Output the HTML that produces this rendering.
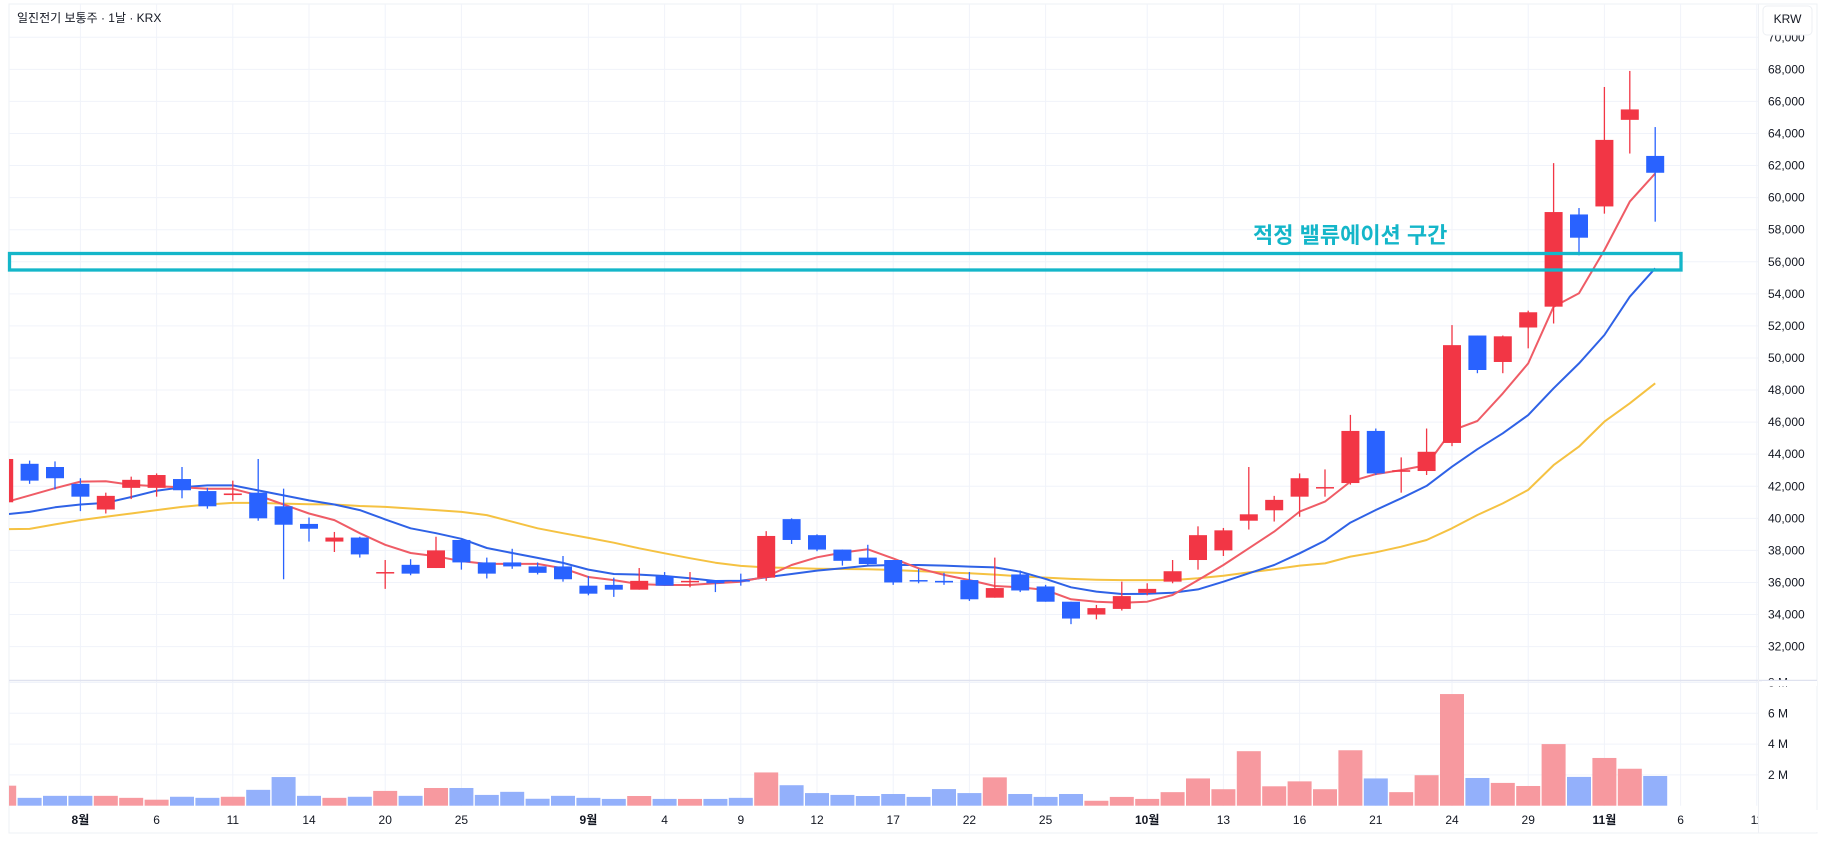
<!DOCTYPE html>
<html><head><meta charset="utf-8">
<style>
html,body{margin:0;padding:0;background:#fff;}
body{width:1827px;height:848px;overflow:hidden;font-family:"Liberation Sans","Noto Sans CJK KR",sans-serif;}
svg text{font-family:"Liberation Sans","Noto Sans CJK KR",sans-serif;}
</style></head>
<body>
<svg id="chart" width="1827" height="848" viewBox="0 0 1827 848" xmlns="http://www.w3.org/2000/svg">
  <rect x="0" y="0" width="1827" height="848" fill="#ffffff"/>
  <g id="grid"></g>
  <g id="vol"></g>
  <g id="ma"></g>
  <g id="candles"></g>
  <g id="axes"></g>
  <rect x="9.5" y="253.5" width="1671.5" height="16.5" fill="none" stroke="#14b6c9" stroke-width="3.3"/>
  <text x="1253" y="243" font-size="22" font-weight="bold" fill="#14b6c9">적정 밸류에이션 구간</text>
  <text x="17" y="22" font-size="12" fill="#131722">일진전기 보통주 · 1날 · KRX</text>
  <g>
    <rect x="1763" y="6" width="49" height="29" rx="4" fill="#fff" stroke="#eceff3"/>
    <text x="1787.5" y="23" font-size="12" text-anchor="middle" fill="#131722">KRW</text>
  </g>
</svg>
<script>
const openP=[41000,43400,43200,42150,40550,41900,41900,42450,41700,41450,41600,40750,39650,38550,38800,36600,37100,36900,38650,37250,37250,37000,37000,35800,35850,35550,36400,36050,36150,36150,36300,39950,38950,38050,37550,37400,36150,36100,36150,35050,36500,35750,34800,34000,34350,35350,36050,37400,38000,39850,40500,41350,41900,42200,45450,42900,42950,44700,51400,49750,51900,53200,58950,59450,64850,62600];
const highP=[43700,43600,43550,42500,41600,42600,42800,43200,41900,42350,43700,41850,40050,39150,38850,37400,37450,38850,38700,37550,38100,37250,37650,36400,36300,36900,36650,36650,36150,36550,39200,40000,39000,38050,38350,37400,36850,36600,36650,37550,36750,35850,34800,34600,36050,35950,37400,39500,39400,43200,41400,42800,43050,46450,45600,43800,45600,52050,51400,51400,52950,62150,59350,66900,67900,64400];
const lowP=[41000,42150,41800,40450,40300,41200,41350,41250,40600,41100,39850,36200,38550,37900,37550,35600,36450,36900,36800,36250,36850,36500,36050,35200,35100,35550,35800,35700,35400,35800,36100,38400,37950,37050,37100,35850,35950,35850,34850,35050,35400,34800,33400,33700,34250,35200,35950,36800,37650,39300,39800,40100,41350,42100,42700,41600,42700,44500,49050,49050,50600,52150,56400,59000,62750,58500];
const closeP=[43700,42350,42500,41350,41400,42400,42700,41750,40750,41550,40000,39600,39350,38800,37750,36650,36550,38000,37250,36550,37000,36600,36200,35300,35550,36100,35800,36100,35950,36050,38900,38650,38050,37350,37150,36000,36100,36000,34950,35650,35500,34800,33750,34400,35150,35600,36700,38950,39250,40250,41150,42500,41950,45450,42800,43000,44150,50800,49250,51350,52850,59100,57500,63600,65500,61550];
const volumeM=[1.3,0.51,0.64,0.64,0.64,0.51,0.39,0.58,0.51,0.58,1.03,1.86,0.64,0.51,0.58,0.96,0.64,1.15,1.15,0.7,0.9,0.45,0.64,0.51,0.44,0.63,0.44,0.44,0.44,0.51,2.16,1.33,0.82,0.7,0.63,0.76,0.57,1.08,0.82,1.84,0.76,0.57,0.76,0.32,0.57,0.44,0.88,1.77,1.07,3.54,1.26,1.58,1.07,3.6,1.77,0.88,1.98,7.25,1.8,1.48,1.28,4.0,1.87,3.1,2.4,1.93];
const ma5=[40980,41430,41880,42290,42310,42090,42000,41940,41840,41840,41430,40860,40300,39890,39070,38350,37840,37630,37330,37160,37160,37160,36880,36340,36150,35900,35840,35840,35950,36050,36360,37090,37570,37860,38070,37500,36880,36470,36150,35780,35700,35530,34950,34800,34740,34800,35220,36150,37090,38130,39170,40420,41040,42290,42760,43010,43320,45480,46070,47790,49660,53200,54030,56730,59750,61510];
const ma10=[40240,40400,40690,40860,40960,41330,41720,41940,42050,42050,41740,41430,41120,40860,40510,39930,39380,39070,38720,38150,37840,37530,37220,36800,36530,36490,36400,36260,36090,36110,36320,36530,36740,36880,37050,37090,37090,37050,36990,36940,36670,36220,35700,35430,35280,35290,35360,35570,36050,36570,37090,37820,38610,39730,40520,41250,42020,43220,44310,45300,46440,48110,49660,51430,53820,55590];
const ma20=[39320,39340,39620,39890,40100,40300,40510,40710,40860,40960,40960,40920,40880,40860,40770,40710,40610,40510,40400,40200,39790,39380,39070,38780,38480,38130,37820,37510,37230,37030,36940,36900,36860,36840,36820,36780,36710,36630,36570,36490,36380,36300,36220,36170,36150,36150,36150,36260,36420,36630,36820,37050,37190,37610,37880,38230,38650,39380,40210,40930,41770,43320,44470,46030,47170,48420];
const xTickIdx=[3,6,9,12,15,18,23,26,29,32,35,38,41,45,48,51,54,57,60,63,66,69];
const xTickLabels=["8월","6","11","14","20","25","9월","4","9","12","17","22","25","10월","13","16","21","24","29","11월","6","11"];
const priceTicks=[32000,34000,36000,38000,40000,42000,44000,46000,48000,50000,52000,54000,56000,58000,60000,62000,64000,66000,68000,70000];
const volTicks=[2,4,6,8];

const NS="http://www.w3.org/2000/svg";
const PL=9, PR=1758, PT=4, PB=680, VB=805.7;
function xOf(i){return 4.2+25.4*i;}
function yOf(p){return 646.6-(p-32000)*0.016035;}
function vOf(v){return VB-v*15.4;}
function mk(tag,attrs,parent){const e=document.createElementNS(NS,tag);for(const k in attrs)e.setAttribute(k,attrs[k]);parent.appendChild(e);return e;}

const svg=document.getElementById('chart');
const defs=mk('defs',{},svg);
const cp=mk('clipPath',{id:'cp'},defs); mk('rect',{x:PL,y:PT,width:PR-PL,height:PB-PT},cp);
const cv=mk('clipPath',{id:'cv'},defs); mk('rect',{x:PL,y:PB+1,width:PR-PL,height:VB-PB},cv);

const grid=document.getElementById('grid');
const axes=document.getElementById('axes');
mk('rect',{x:PL,y:PT,width:1817-PL,height:833-PT,fill:'none',stroke:'#eef0f4','stroke-width':1},grid);
priceTicks.forEach(p=>{
  const y=yOf(p);
  const g=mk('line',{x1:PL,x2:PR,y1:y,y2:y,stroke:'#f0f3fa','stroke-width':1},grid);
  
  
  const t=mk('text',{x:1768,y:y+4,'font-size':12,fill:'#131722'},axes);
  t.textContent=p.toLocaleString('en-US');
  
  
});
volTicks.forEach(v=>{
  const y=vOf(v);
  const g=mk('line',{x1:PL,x2:PR,y1:y,y2:y,stroke:'#f0f3fa','stroke-width':1},grid);
  
  
  const t=mk('text',{x:1768,y:y+4,'font-size':12,fill:'#131722'},axes);
  t.textContent=v+' M';
  
  
});
xTickIdx.forEach((i,k)=>{
  const x=xOf(i);
  const g=mk('line',{x1:x,x2:x,y1:PT,y2:VB,stroke:'#f0f3fa','stroke-width':1},grid);
  
  
  const lab=xTickLabels[k];
  const t=mk('text',{x:x,y:824,'font-size':12,'text-anchor':'middle',fill:'#131722','font-weight':lab.indexOf('월')>=0?'bold':'normal'},axes);
  t.textContent=lab;
  
  
});
mk('rect',{x:PR+1,y:810,width:60,height:22,fill:'#fff'},axes);
mk('line',{x1:PL,x2:1817,y1:PB+0.5,y2:PB+0.5,stroke:'#dfe2ef','stroke-width':1.5},axes);
mk('line',{x1:PR+0.5,x2:PR+0.5,y1:PT,y2:833,stroke:'#eef0f4','stroke-width':1},axes);
mk('rect',{x:1762,y:PB+1,width:55,height:5,fill:'#fff'},axes);

const vol=document.getElementById('vol'); vol.setAttribute('clip-path','url(#cv)');
volumeM.forEach((v,i)=>{
  const up=closeP[i]>=openP[i];
  const y=vOf(v);
  const r=mk('rect',{x:xOf(i)-12,y:y,width:24,height:VB-y,fill:up?'#f7999f':'#93b0fb'},vol);
  
  
});

const maG=document.getElementById('ma'); maG.setAttribute('clip-path','url(#cp)');
[[ma20,'#f5c242','ma20-line'],[ma10,'#2f62e6','ma10-line'],[ma5,'#ef5c66','ma5-line']].forEach(([arr,col,nm])=>{
  const d=arr.map((p,i)=>(i?'L':'M')+xOf(i).toFixed(1)+' '+yOf(p).toFixed(1)).join(' ');
  const pth=mk('path',{d:d,fill:'none',stroke:col,'stroke-width':2,'stroke-linejoin':'round'},maG);
  
  
});

const cg=document.getElementById('candles'); cg.setAttribute('clip-path','url(#cp)');
openP.forEach((o,i)=>{
  const c=closeP[i], up=c>=o, col=up?'#f23645':'#2962ff', x=xOf(i);
  const g=mk('g',{},cg);
  
  
  mk('line',{x1:x,x2:x,y1:yOf(highP[i]),y2:yOf(lowP[i]),stroke:col,'stroke-width':1.3},g);
  const yt=yOf(Math.max(o,c)), yb=yOf(Math.min(o,c));
  mk('rect',{x:x-9,y:yt,width:18,height:Math.max(1.5,yb-yt),fill:col},g);
});
</script>
</body></html>
